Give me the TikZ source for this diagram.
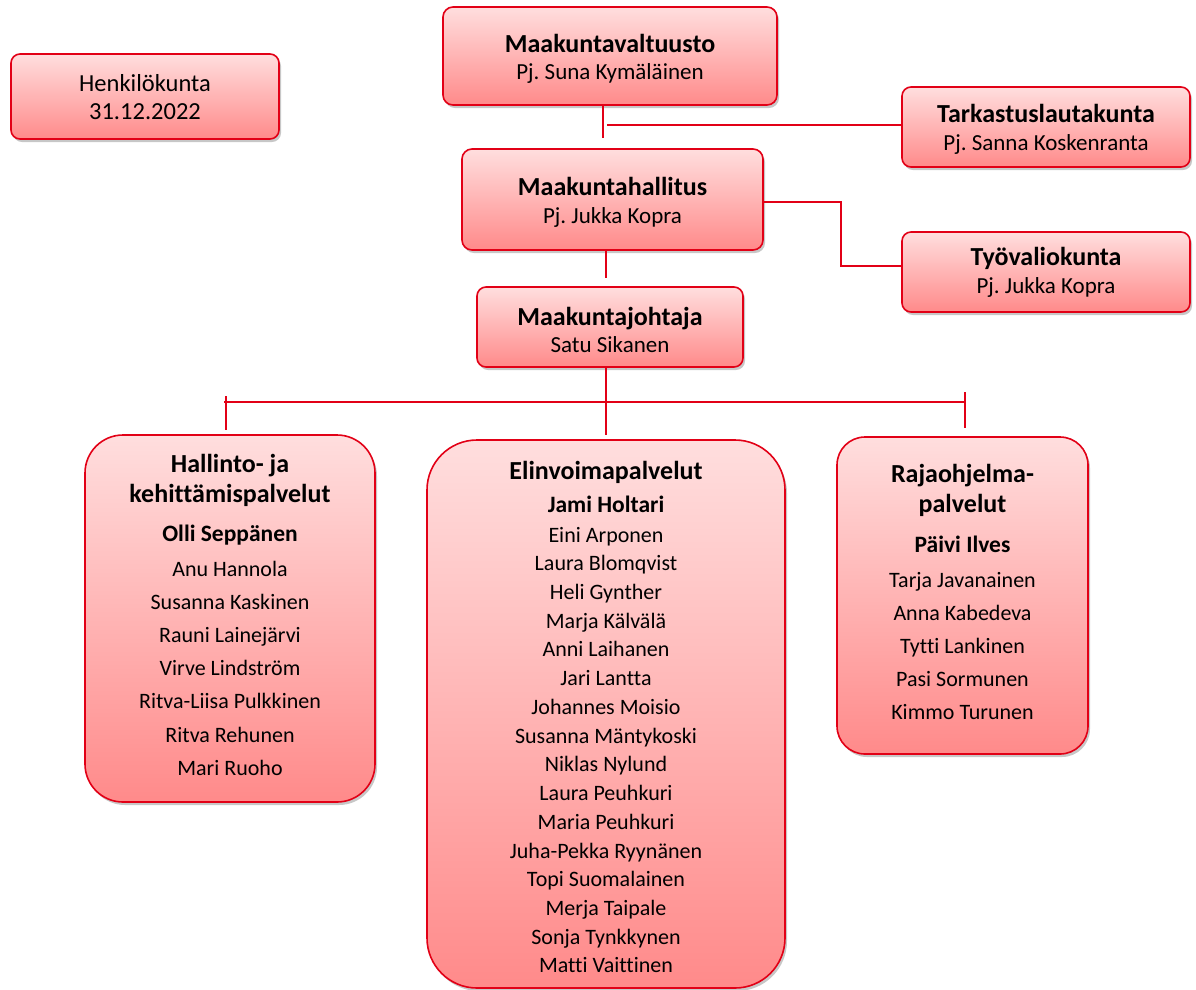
\documentclass[tikz,border=0pt]{standalone}
\usepackage{fontspec}
\setmainfont{Carlito}[Ligatures={NoCommon}]
\usetikzlibrary{shadows}
\definecolor{bred}{RGB}{226,0,22}
\definecolor{topc}{RGB}{255,222,222}
\definecolor{botc}{RGB}{255,138,138}
\frenchspacing
\begin{document}
\begin{tikzpicture}[x=1pt,y=-1pt,
  box/.style={draw=bred, line width=1.6pt, top color=topc, bottom color=botc, inner sep=0pt,
    drop shadow={shadow xshift=2pt,shadow yshift=-3pt,opacity=0.22,fill=black}},
  conn/.style={draw=bred, line width=1.4pt},
  ttl/.style={font=\fontsize{26}{30}\selectfont\bfseries, anchor=base, inner sep=0pt},
  sub/.style={font=\fontsize{23}{28}\selectfont, anchor=base, inner sep=0pt},
  hd/.style={font=\fontsize{23.5}{28}\selectfont\bfseries, anchor=base, inner sep=0pt},
  nm/.style={font=\fontsize{22}{26}\selectfont, anchor=base, inner sep=0pt}]
\useasboundingbox (0,0) rectangle (1196,989);

% boxes
\node[box, rounded corners=9pt, minimum width=268pt, minimum height=85pt] (henk) at (145,96.5) {};
\node[box, rounded corners=10pt, minimum width=334pt, minimum height=98pt] (valt) at (610,56) {};
\node[box, rounded corners=9pt, minimum width=288pt, minimum height=80pt] (tark) at (1046,127) {};
\node[box, rounded corners=10pt, minimum width=301pt, minimum height=101pt] (hall) at (612.5,199.5) {};
\node[box, rounded corners=9pt, minimum width=288pt, minimum height=80pt] (tyo) at (1046,272) {};
\node[box, rounded corners=9pt, minimum width=266pt, minimum height=80pt] (joht) at (610,327) {};
\node[box, rounded corners=38pt, minimum width=290pt, minimum height=367pt] (hak) at (230,618.5) {};
\node[box, rounded corners=50pt, minimum width=358pt, minimum height=548pt] (elin) at (606,714) {};
\node[box, rounded corners=28pt, minimum width=251pt, minimum height=317pt] (raja) at (962.5,595.5) {};

% connectors
\coordinate (v1) at (603,138);
\draw[conn] (valt.south -| v1) -- (v1);
\coordinate (t1) at (607,125);
\draw[conn] (t1) -- (t1 -| tark.west);
\coordinate (h1) at (606,278);
\draw[conn] (hall.south -| h1) -- (h1);
\coordinate (e1) at (841,202);
\coordinate (e2) at (841,266);
\draw[conn] (hall.east |- e1) -- (e1) -- (e2) -- (e2 -| tyo.west);
\coordinate (j1) at (606,435);
\draw[conn] (joht.south -| j1) -- (j1);
\coordinate (bl) at (224,402);
\coordinate (br) at (966,402);
\draw[conn] (bl) -- (br);
\coordinate (lt) at (226,396);
\coordinate (lb) at (226,430);
\draw[conn] (lt) -- (lb);
\coordinate (rt) at (965,392);
\coordinate (rb) at (965,428);
\draw[conn] (rt) -- (rb);

% texts top
\node[font=\fontsize{24.5}{28}\selectfont, anchor=base, inner sep=0pt] (henk1) at (145,91) {Henkilökunta};
\node[font=\fontsize{24.5}{28}\selectfont, anchor=base, inner sep=0pt] (henk2) at (145,119) {31.12.2022};
\node[ttl] (valt1) at (610,52) {Maakuntavaltuusto};
\node[sub] (valt2) at (610,79) {Pj. Suna Kymäläinen};
\node[ttl] (tark1) at (1046,122) {Tarkastuslautakunta};
\node[sub] (tark2) at (1046,150) {Pj. Sanna Koskenranta};
\node[ttl] (hall1) at (612.5,195) {Maakuntahallitus};
\node[sub] (hall2) at (612.5,223) {Pj. Jukka Kopra};
\node[ttl] (tyo1) at (1046,265) {Työvaliokunta};
\node[sub] (tyo2) at (1046,293) {Pj. Jukka Kopra};
\node[ttl] (joht1) at (610,325) {Maakuntajohtaja};
\node[sub] (joht2) at (610,352) {Satu Sikanen};

% Hallinto- ja kehittämispalvelut
\node[ttl] (hak1) at (230,472) {Hallinto- ja};
\node[ttl] (hak2) at (230,502) {kehittämispalvelut};
\node[hd] (hak3) at (230,541) {Olli Seppänen};
\foreach \n [count=\i from 0] in {Anu Hannola, Susanna Kaskinen, Rauni Lainejärvi, Virve Lindström, Ritva-Liisa Pulkkinen, Ritva Rehunen, Mari Ruoho}
  \node[nm] (hakn\i) at (230,{576+33.2*\i}) {\n};

% Elinvoimapalvelut
\node[ttl] (elin1) at (606,479) {Elinvoimapalvelut};
\node[hd] (elin2) at (606,512) {Jami Holtari};
\foreach \n [count=\i from 0] in {Eini Arponen, Laura Blomqvist, Heli Gynther, Marja Kälvälä, Anni Laihanen, Jari Lantta, Johannes Moisio, Susanna Mäntykoski, Niklas Nylund, Laura Peuhkuri, Maria Peuhkuri, Juha-Pekka Ryynänen, Topi Suomalainen, Merja Taipale, Sonja Tynkkynen, Matti Vaittinen}
  \node[nm] (elinn\i) at (606,{542+28.73*\i}) {\n};

% Rajaohjelmapalvelut
\node[ttl] (raja1) at (962.5,482) {Rajaohjelma-};
\node[ttl] (raja2) at (962.5,512) {palvelut};
\node[hd] (raja3) at (962.5,552) {Päivi Ilves};
\foreach \n [count=\i from 0] in {Tarja Javanainen, Anna Kabedeva, Tytti Lankinen, Pasi Sormunen, Kimmo Turunen}
  \node[nm] (rajan\i) at (962.5,{587+33*\i}) {\n};
\end{tikzpicture}
\end{document}
